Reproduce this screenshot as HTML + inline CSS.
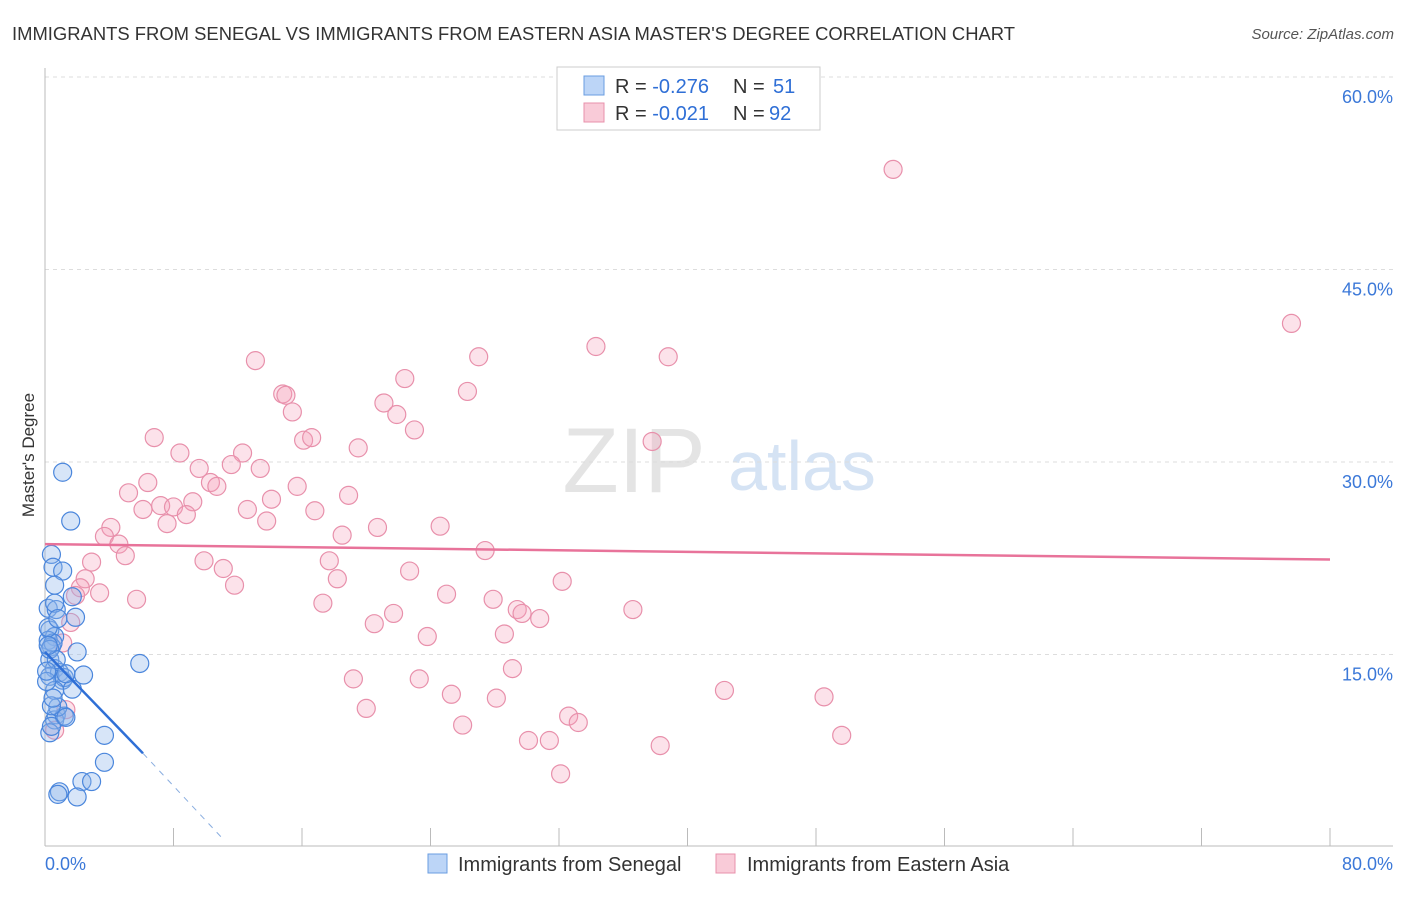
<!DOCTYPE html>
<html><head><meta charset="utf-8"><style>
body{margin:0;background:#fff;font-family:"Liberation Sans",sans-serif}
svg text{font-family:"Liberation Sans",sans-serif}
</style></head><body>
<svg id="c" width="1406" height="892">
<text x="12" y="40" font-size="18" fill="#333" textLength="1003" lengthAdjust="spacingAndGlyphs">IMMIGRANTS FROM SENEGAL VS IMMIGRANTS FROM EASTERN ASIA MASTER'S DEGREE CORRELATION CHART</text>
<text x="1394" y="39" font-size="15" fill="#555" text-anchor="end" font-style="italic">Source: ZipAtlas.com</text>
<text x="634" y="492" font-size="92" fill="#e4e4e4" font-family="Liberation Serif" text-anchor="middle">ZIP</text>
<text x="802" y="490" font-size="70" fill="#d5e3f4" text-anchor="middle">atlas</text>
<text x="34" y="455" font-size="17" fill="#333" text-anchor="middle" transform="rotate(-90 34 455)">Master's Degree</text>
<g id="grid"></g><g id="marks"></g>
<g>
<rect x="557" y="67" width="263" height="63" fill="#fff" stroke="#ccc"/>
<rect x="584" y="76" width="20" height="19" fill="#bcd5f7" stroke="#6a9de0"/>
<text x="615" y="93" font-size="20" fill="#333">R = <tspan fill="#2f6fd6">-0.276</tspan></text>
<text x="733" y="93" font-size="20" fill="#333">N =</text>
<text x="773" y="93" font-size="20" fill="#2f6fd6">51</text>
<rect x="584" y="103" width="20" height="19" fill="#f9cbd8" stroke="#e890ab"/>
<text x="615" y="120" font-size="20" fill="#333">R = <tspan fill="#2f6fd6">-0.021</tspan></text>
<text x="733" y="120" font-size="20" fill="#333">N =</text>
<text x="769" y="120" font-size="20" fill="#2f6fd6">92</text>
</g>
<g>
<rect x="428" y="854" width="19" height="19" fill="#bcd5f7" stroke="#6a9de0"/>
<text x="458" y="871" font-size="20" fill="#333">Immigrants from Senegal</text>
<rect x="716" y="854" width="19" height="19" fill="#f9cbd8" stroke="#e890ab"/>
<text x="747" y="871" font-size="20" fill="#333">Immigrants from Eastern Asia</text>
</g>
</svg>
<script>
const yTicks=[15,30,45,60];
const xTickLabels=["0.0%","80.0%"];
const blueX=[1.1,1.6,0.4,0.5,1.1,0.2,0.7,0.6,1.7,1.9,0.3,0.6,0.2,0.4,0.5,0.3,2.0,5.9,0.6,0.9,1.1,0.3,1.2,1.7,2.4,1.3,0.6,0.7,0.6,1.2,0.8,0.4,0.3,0.4,3.7,3.7,2.3,2.9,0.9,0.8,2.0,0.2,0.3,0.1,0.7,1.3,0.5,0.2,0.8,0.6,0.1];
const blueY=[29.2,25.4,22.8,21.8,21.5,18.6,18.5,19.0,19.5,17.9,16.9,16.4,16.1,15.6,15.9,14.6,15.2,14.3,13.9,13.6,13.0,13.3,13.2,12.3,13.4,13.5,12.2,10.3,9.9,10.2,10.9,11.0,8.9,9.4,8.7,6.6,5.1,5.1,4.3,4.1,3.9,17.1,15.4,12.9,14.6,10.1,11.6,15.7,17.8,20.4,13.7];
const pinkX=[52.8,77.6,13.1,34.3,38.8,27.0,22.4,14.8,15.0,26.3,21.1,15.4,21.9,23.0,16.1,16.6,19.5,6.8,37.8,8.4,12.3,9.6,11.6,13.4,6.4,10.3,10.7,5.2,15.7,18.9,14.1,6.1,7.2,8.0,9.2,8.8,12.6,13.8,16.8,7.6,20.7,24.6,4.1,3.7,4.6,5.0,18.5,27.4,2.9,9.9,11.1,17.7,22.7,2.5,2.2,3.4,1.9,5.7,11.8,18.2,32.2,25.0,27.9,17.3,29.4,29.7,30.8,36.6,21.7,20.5,28.6,23.8,1.6,1.1,29.1,19.2,23.3,42.3,48.5,25.3,28.1,20.0,32.6,33.2,26.0,30.1,31.4,38.3,49.6,32.1,0.6,1.3];
const pinkY=[52.8,40.8,37.9,39.0,38.2,38.2,36.5,35.3,35.2,35.5,34.6,33.9,33.7,32.5,31.7,31.9,31.1,31.9,31.6,30.7,30.7,29.5,29.8,29.5,28.4,28.4,28.1,27.6,28.1,27.4,27.1,26.3,26.6,26.5,26.9,25.9,26.3,25.4,26.2,25.2,24.9,25.0,24.9,24.2,23.6,22.7,24.3,23.1,22.2,22.3,21.7,22.3,21.5,20.9,20.2,19.8,19.6,19.3,20.4,20.9,20.7,19.7,19.3,19.0,18.5,18.2,17.8,18.5,18.2,17.4,16.6,16.4,17.5,15.9,13.9,13.1,13.1,12.2,11.7,11.9,11.6,10.8,10.2,9.7,9.5,8.3,8.3,7.9,8.7,5.7,9.1,10.7];
const X=v=>45+v/80*1285, Y=v=>847-v/15*192.5;
const NS="http://www.w3.org/2000/svg";
function mk(t,a,p){const e=document.createElementNS(NS,t);for(const k in a)e.setAttribute(k,a[k]);p.appendChild(e);return e;}
const g=document.getElementById('grid'),m=document.getElementById('marks');
yTicks.forEach(t=>{
 const l=mk('line',{x1:45,x2:1393,y1:Y(t),y2:Y(t),stroke:'#ddd','stroke-dasharray':'4,4'},g);
 
 
 const tx=mk('text',{x:1393,y:Y(t)+26,'font-size':18,fill:'#3b78d8','text-anchor':'end'},g);
 tx.textContent=t.toFixed(1)+'%';
 
 
});
const ax=mk('line',{x1:45,x2:45,y1:68,y2:846,stroke:'#bbb'},g);


const bx=mk('line',{x1:45,x2:1393,y1:846,y2:846,stroke:'#bbb'},g);


for(let i=1;i<=10;i++){const tk=mk('line',{x1:X(i*8),x2:X(i*8),y1:828,y2:846,stroke:'#bbb'},g);
 
 }
const xl0=mk('text',{x:45,y:870,'font-size':18,fill:'#3b78d8'},g);xl0.textContent=xTickLabels[0];


const xl1=mk('text',{x:1393,y:870,'font-size':18,fill:'#3b78d8','text-anchor':'end'},g);xl1.textContent=xTickLabels[1];


pinkX.forEach((v,i)=>{const c=mk('circle',{cx:X(v),cy:Y(pinkY[i]),r:9,fill:'rgba(244,160,186,0.3)',stroke:'#e890ab','stroke-width':1.2},m);
 
 });
blueX.forEach((v,i)=>{const c=mk('circle',{cx:X(v),cy:Y(blueY[i]),r:9,fill:'rgba(140,180,235,0.35)',stroke:'#4a86dc','stroke-width':1.2},m);
 
 });
const pl=mk('line',{x1:X(0),y1:Y(23.6),x2:X(80),y2:Y(22.4),stroke:'#e8739a','stroke-width':2.5},m);


const bl=mk('line',{x1:X(0),y1:Y(15.2),x2:X(6.1),y2:Y(7.3),stroke:'#2f6fd6','stroke-width':2.5},m);


const bd=mk('line',{x1:X(6.1),y1:Y(7.3),x2:X(11.1),y2:Y(0.6),stroke:'#8aaee0','stroke-width':1,'stroke-dasharray':'6,6'},m);


</script>
</body></html>
